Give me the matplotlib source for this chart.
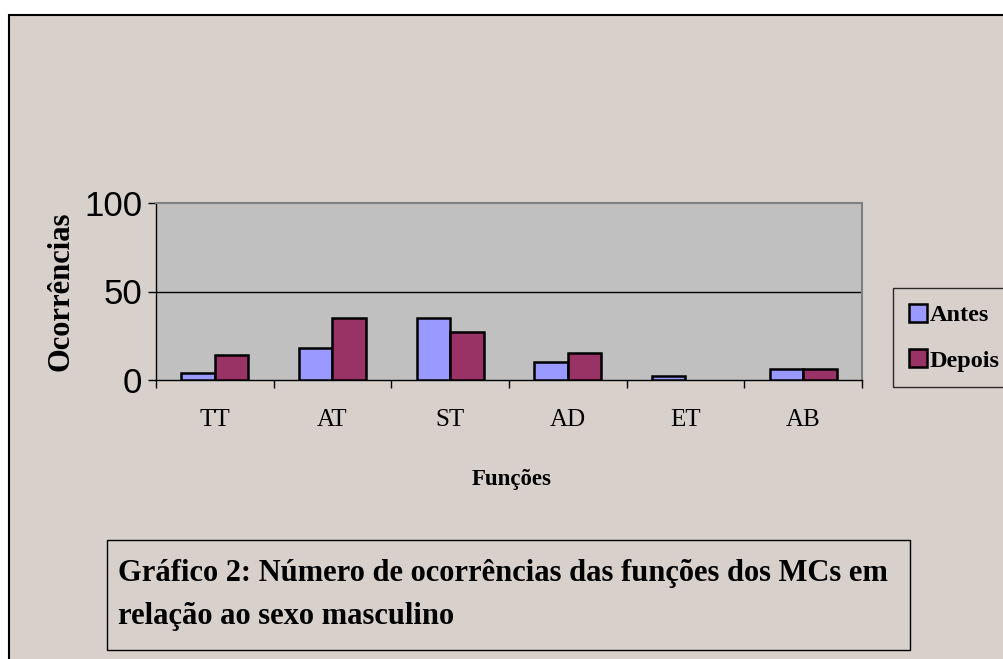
import matplotlib
matplotlib.use("Agg")
import matplotlib.pyplot as plt
import numpy as np
from matplotlib.patches import Rectangle

categorias = ["TT", "AT", "ST", "AD", "ET", "AB"]
antes = [4, 18, 35, 10, 2, 6]
depois = [14, 35, 27, 15, 0, 6]
series = ["Antes", "Depois"]
titulo = "Gráfico 2: Número de ocorrências das funções dos MCs em\nrelação ao sexo masculino"

W, H = 1004, 659
fig = plt.figure(figsize=(W / 100, H / 100), dpi=100, facecolor="white")

# fundo com borda (cortado à direita e em baixo)
fig.patches.append(Rectangle((9 / W, -0.05), 1.1, (H - 15) / H + 0.05,
                             transform=fig.transFigure, facecolor="#D8D0CB",
                             edgecolor="black", linewidth=1.5, zorder=-5))

ax = fig.add_axes([156 / W, 1 - 380 / H, (862 - 156) / W, (380 - 203) / H], zorder=2)
ax.set_facecolor("#C0C0C0")

x = np.arange(len(categorias))
w = 0.286
# barras com valor 0 ficam invisíveis (como no Excel)
ax.bar(x - w / 2, antes, w, color="#9999FF", linewidth=1.8,
       edgecolor=["black" if v > 0 else "none" for v in antes],
       label=series[0], zorder=3)
ax.bar(x + w / 2, depois, w, color="#993366", linewidth=1.8,
       edgecolor=["black" if v > 0 else "none" for v in depois],
       label=series[1], zorder=3)

ax.set_xlim(-0.5, len(categorias) - 0.5)
ax.set_ylim(0, 100)
ax.set_yticks([0, 50, 100])
ax.set_yticklabels(["0", "50", "100"], fontsize=25, fontfamily="Liberation Sans")
ax.axhline(50, color="black", linewidth=1, zorder=2)

ax.set_xticks(x)
ax.set_xticklabels(categorias, fontsize=18, fontfamily="Liberation Serif")
ax.set_xticks(np.arange(-0.5, len(categorias)), minor=True)
ax.tick_params(axis="x", which="major", length=0, pad=21)
ax.tick_params(axis="x", which="minor", length=6, width=1, direction="out")
ax.tick_params(axis="y", length=6, width=1, direction="out", pad=4)

for s in ["top", "right"]:
    ax.spines[s].set_color("#808080")
    ax.spines[s].set_linewidth(1.5)
for s in ["left", "bottom"]:
    ax.spines[s].set_color("black")
    ax.spines[s].set_linewidth(1)

fig.text(61 / W, 1 - 291 / H, "Ocorrências", rotation=90, ha="center", va="center",
         fontsize=22, fontweight="bold", fontfamily="Liberation Serif")
fig.text(512 / W, 1 - 480 / H, "Funções", ha="center", va="center",
         fontsize=16.5, fontweight="bold", fontfamily="Liberation Serif")

leg = fig.legend(loc="upper left", bbox_to_anchor=(893 / W, 1 - 288 / H),
                 prop={"family": "Liberation Serif", "weight": "bold", "size": 17.5},
                 frameon=True, fancybox=False, edgecolor="black", facecolor="#D8D0CB",
                 handlelength=0.75, handleheight=0.75, handletextpad=0.12,
                 borderpad=0.65, labelspacing=0.95, borderaxespad=0)
leg.get_frame().set_linewidth(1)
for h in leg.legend_handles:
    h.set_edgecolor("black")

fig.patches.append(Rectangle((107 / W, 1 - 650 / H), (910 - 107) / W, (650 - 540) / H,
                             transform=fig.transFigure, facecolor="none",
                             edgecolor="black", linewidth=1, zorder=1))
fig.text(118 / W, 1 - 595 / H, titulo, ha="left", va="center", fontsize=22,
         fontweight="bold", fontfamily="Liberation Serif", linespacing=1.65)

fig.savefig("out.png", dpi=100, facecolor="white")
